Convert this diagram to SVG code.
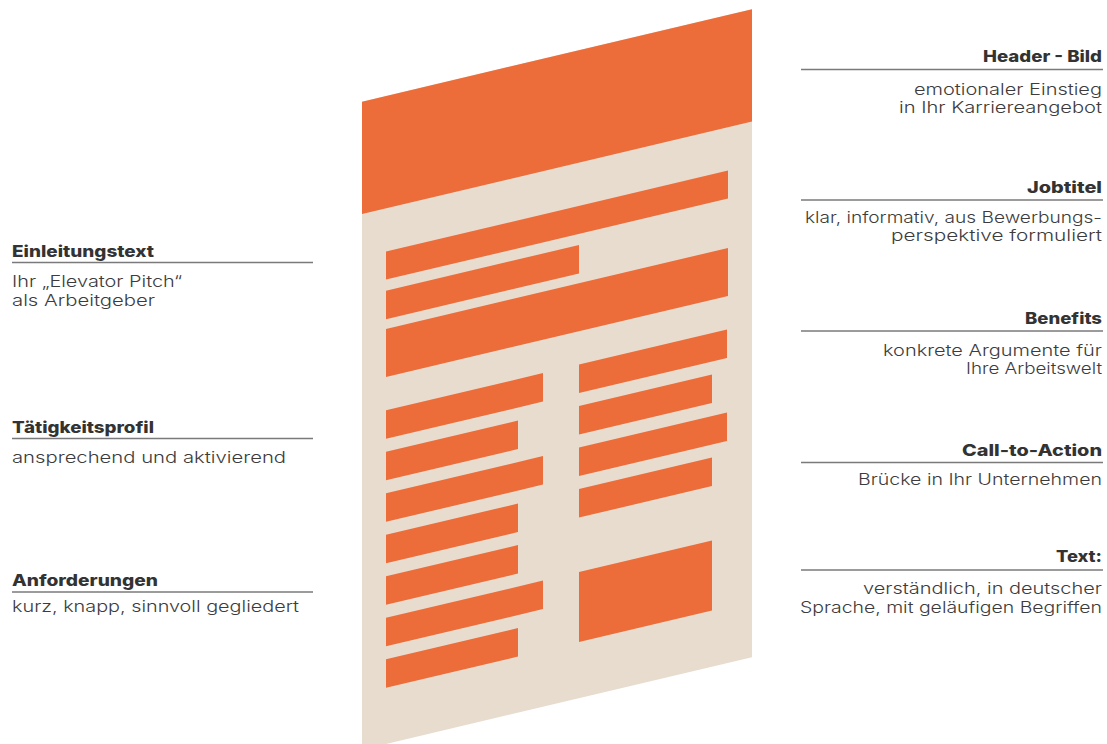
<svg xmlns="http://www.w3.org/2000/svg" width="1107" height="744" viewBox="0 0 1107 744">
<style>
.bg{fill:#E8DCCF}
.or{fill:#EC6D3A}
.h{font-family:Inter,"Noto Sans","Liberation Sans",sans-serif;font-weight:800;font-size:16px;fill:#333333}
.t{font-family:Inter,"Noto Sans","Liberation Sans",sans-serif;font-weight:300;font-size:16px;fill:#3c3c3c}
.r{text-anchor:end}
.rule{stroke:#7a7a7a;stroke-width:1.4}
</style>
<rect width="1107" height="744" fill="#ffffff"/>
<g id="page" transform="matrix(1,-0.237,0,1,0,85.794)">
  <rect class="bg" x="362" y="101.7" width="390" height="648"/>
  <rect id="header-image" class="or" x="362" y="101.7" width="390" height="112.3"/>
  <rect id="jobtitle-bar" class="or" x="386" y="257.3" width="342" height="28"/>
  <g id="intro-bars">
    <rect class="or" x="386" y="296.4" width="193" height="28.5"/>
    <rect class="or" x="386" y="334.7" width="342" height="48"/>
  </g>
  <g id="left-column">
    <rect class="or" x="386" y="416" width="157" height="28.5"/>
    <rect class="or" x="386" y="457.5" width="132" height="28.5"/>
    <rect class="or" x="386" y="499" width="157" height="28.5"/>
    <rect class="or" x="386" y="540.5" width="132" height="28.5"/>
    <rect class="or" x="386" y="582" width="132" height="28.5"/>
    <rect class="or" x="386" y="623.5" width="157" height="28.5"/>
    <rect class="or" x="386" y="665" width="132" height="28.5"/>
  </g>
  <g id="right-column">
    <rect class="or" x="579" y="416" width="148" height="28.5"/>
    <rect class="or" x="579" y="457.5" width="133" height="28.5"/>
    <rect class="or" x="579" y="499" width="148" height="28.5"/>
    <rect class="or" x="579" y="540.5" width="133" height="28.5"/>
    <rect class="or" x="579" y="623.5" width="133" height="70"/>
  </g>
</g>
<g id="connectors">
  <line class="rule" x1="12" y1="262.5" x2="313" y2="262.5"/>
  <line class="rule" x1="12" y1="438.5" x2="313" y2="438.5"/>
  <line class="rule" x1="12" y1="592" x2="313" y2="592"/>
  <line class="rule" x1="801" y1="69.5" x2="1103" y2="69.5"/>
  <line class="rule" x1="801" y1="200" x2="1103" y2="200"/>
  <line class="rule" x1="801" y1="331" x2="1103" y2="331"/>
  <line class="rule" x1="801" y1="462.5" x2="1103" y2="462.5"/>
  <line class="rule" x1="801" y1="570" x2="1103" y2="570"/>
</g>
<g id="label-einleitungstext">
  <text class="h" x="12" y="256.5" textLength="142" lengthAdjust="spacingAndGlyphs">Einleitungstext</text>
  <text class="t" x="12" y="287" textLength="170" lengthAdjust="spacingAndGlyphs">Ihr „Elevator Pitch“</text>
  <text class="t" x="12" y="306" textLength="143" lengthAdjust="spacingAndGlyphs">als Arbeitgeber</text>
</g>
<g id="label-taetigkeitsprofil">
  <text class="h" x="12" y="432.5" textLength="142" lengthAdjust="spacingAndGlyphs">Tätigkeitsprofil</text>
  <text class="t" x="12" y="463" textLength="274" lengthAdjust="spacingAndGlyphs">ansprechend und aktivierend</text>
</g>
<g id="label-anforderungen">
  <text class="h" x="12" y="586" textLength="146" lengthAdjust="spacingAndGlyphs">Anforderungen</text>
  <text class="t" x="12" y="612" textLength="287" lengthAdjust="spacingAndGlyphs">kurz, knapp, sinnvoll gegliedert</text>
</g>
<g id="label-header-bild">
  <text class="h r" x="1102" y="62" textLength="119" lengthAdjust="spacingAndGlyphs">Header - Bild</text>
  <text class="t r" x="1102" y="94.5" textLength="188" lengthAdjust="spacingAndGlyphs">emotionaler Einstieg</text>
  <text class="t r" x="1102" y="113" textLength="203" lengthAdjust="spacingAndGlyphs">in Ihr Karriereangebot</text>
</g>
<g id="label-jobtitel">
  <text class="h r" x="1102" y="193" textLength="75" lengthAdjust="spacingAndGlyphs">Jobtitel</text>
  <text class="t r" x="1102" y="223" textLength="297" lengthAdjust="spacingAndGlyphs">klar, informativ, aus Bewerbungs-</text>
  <text class="t r" x="1102" y="241" textLength="211" lengthAdjust="spacingAndGlyphs">perspektive formuliert</text>
</g>
<g id="label-benefits">
  <text class="h r" x="1102" y="324" textLength="77" lengthAdjust="spacingAndGlyphs">Benefits</text>
  <text class="t r" x="1102" y="356" textLength="219" lengthAdjust="spacingAndGlyphs">konkrete Argumente für</text>
  <text class="t r" x="1102" y="374" textLength="136" lengthAdjust="spacingAndGlyphs">Ihre Arbeitswelt</text>
</g>
<g id="label-cta">
  <text class="h r" x="1102" y="456" textLength="140" lengthAdjust="spacingAndGlyphs">Call-to-Action</text>
  <text class="t r" x="1102" y="485" textLength="244" lengthAdjust="spacingAndGlyphs">Brücke in Ihr Unternehmen</text>
</g>
<g id="label-text">
  <text class="h r" x="1102" y="562" textLength="46" lengthAdjust="spacingAndGlyphs">Text:</text>
  <text class="t r" x="1102" y="594" textLength="239" lengthAdjust="spacingAndGlyphs">verständlich, in deutscher</text>
  <text class="t r" x="1102" y="612.5" textLength="302" lengthAdjust="spacingAndGlyphs">Sprache, mit geläufigen Begriffen</text>
</g>
</svg>
